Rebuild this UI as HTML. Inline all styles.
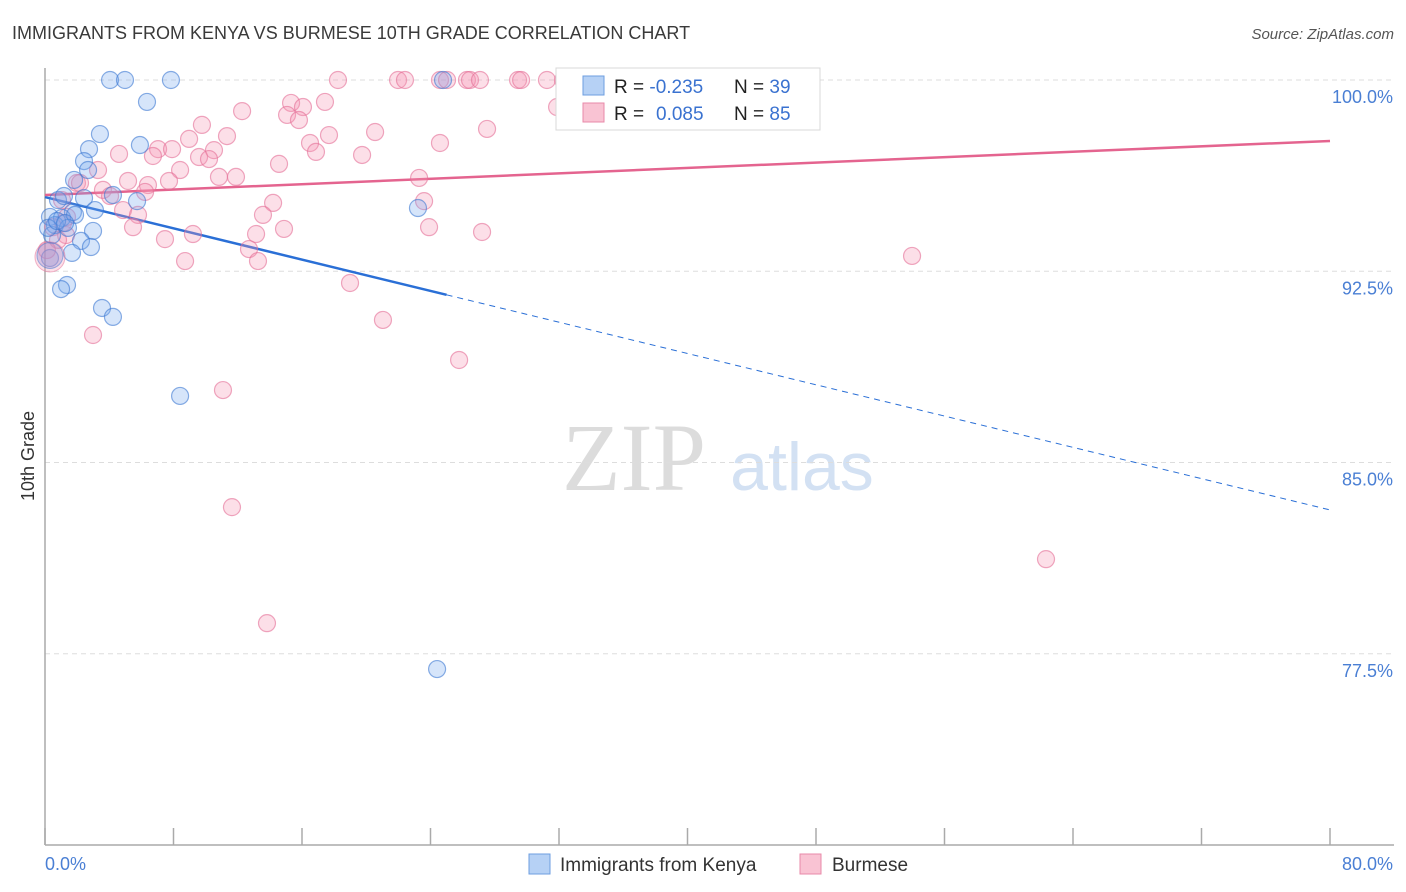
<!DOCTYPE html>
<html><head><meta charset="utf-8"><style>
body{margin:0;background:#fff;font-family:"Liberation Sans",sans-serif}
svg{display:block}
</style></head><body>
<svg id="chart" width="1406" height="892" xmlns="http://www.w3.org/2000/svg">
<text x="12" y="39" font-size="18" fill="#3a3a3a">IMMIGRANTS FROM KENYA VS BURMESE 10TH GRADE CORRELATION CHART</text>
<text x="1394" y="39" font-size="15" font-style="italic" fill="#555" text-anchor="end">Source: ZipAtlas.com</text>
<g>
<text x="634" y="490" font-family="Liberation Serif,serif" font-size="96" fill="#dcdcdc" text-anchor="middle">ZIP</text>
<text x="802" y="490" font-size="68" fill="#d3e1f3" text-anchor="middle">atlas</text>
</g>
<g id="grid"></g><g id="axes"></g><g id="lines"></g><g id="points"></g>
<text transform="translate(34,456) rotate(-90)" font-size="18" fill="#333" text-anchor="middle">10th Grade</text>
<text x="45" y="870" font-size="18" fill="#4a7fd4">0.0%</text>
<text x="1393" y="870" font-size="18" fill="#4a7fd4" text-anchor="end">80.0%</text>
<g>
<rect x="556" y="68" width="264" height="62" fill="#fff" stroke="#d8d8d8"/>
<rect x="583" y="76" width="21" height="19" fill="#b6d1f5" stroke="#6d9ee0"/>
<rect x="583" y="103" width="21" height="19" fill="#f9c3d3" stroke="#e889a8"/>
<text x="614" y="93" font-size="19" fill="#222">R = <tspan fill="#3a72d0">-0.235</tspan><tspan x="734">N = </tspan><tspan fill="#3a72d0">39</tspan></text>
<text x="614" y="120" font-size="19" fill="#222">R = <tspan fill="#3a72d0" x="656">0.085</tspan><tspan x="734">N = </tspan><tspan fill="#3a72d0">85</tspan></text>
</g>
<g>
<rect x="529" y="854" width="21" height="20" fill="#b6d1f5" stroke="#6d9ee0"/>
<text x="560" y="871" font-size="19" fill="#333">Immigrants from Kenya</text>
<rect x="800" y="854" width="21" height="20" fill="#f9c3d3" stroke="#e889a8"/>
<text x="832" y="871" font-size="19" fill="#333">Burmese</text>
</g>
</svg>
<script>
const yTicks=[100,92.5,85,77.5];
const yTickLabels=["100.0%","92.5%","85.0%","77.5%"];
const xTicks=[0,8,16,24,32,40,48,56,64,72,80];
const kenyaX=[4.05,4.98,7.84,24.78,6.35,3.42,5.91,2.74,2.43,2.68,1.81,4.23,2.43,0.81,1.18,5.73,3.11,1.74,23.22,0.31,1.06,1.87,0.62,1.43,2.99,2.24,2.86,1.68,0.31,1.37,1.00,3.55,4.23,8.41,24.41,0.44,0.19,0.75,1.25];
const kenyaY=[100,100,100,100,99.14,97.88,97.45,97.29,96.82,96.47,96.08,95.49,95.37,95.29,95.45,95.25,94.90,94.82,94.98,94.63,94.59,94.71,94.31,94.20,94.08,93.69,93.45,93.22,93.02,91.96,91.80,91.06,90.71,87.61,76.90,93.92,94.20,94.47,94.39];
const burmeseX=[18.24,21.98,22.41,24.59,25.03,26.27,26.46,27.08,29.45,29.64,31.25,32.25,37.67,12.27,15.32,16.06,15.07,15.81,17.43,9.77,11.33,8.97,17.68,20.55,27.52,16.50,16.87,19.74,24.59,4.61,7.04,7.91,6.72,10.52,9.59,10.21,8.41,3.30,14.57,10.83,11.89,23.29,5.17,7.72,6.41,6.23,3.61,1.99,14.20,13.57,23.60,4.05,4.86,5.79,5.48,7.47,9.21,13.14,14.88,23.91,27.21,12.70,13.26,8.72,18.99,21.04,25.78,2.99,11.08,31.88,53.98,62.32,11.64,13.82,0.50,1.12,1.37,1.06,2.18,1.31,0.81,0.12];
const burmeseY=[100,100,100,100,100,100,100,100,100,100,100,100,100,98.78,99.10,98.94,98.63,98.43,99.14,98.24,97.80,97.69,97.84,97.96,98.08,97.53,97.18,97.06,97.53,97.10,97.29,97.29,97.02,97.25,96.98,96.90,96.47,96.47,96.71,96.20,96.20,96.16,96.04,96.04,95.88,95.61,95.69,95.96,95.18,94.71,95.25,95.45,94.90,94.71,94.23,93.76,93.96,93.96,94.16,94.23,94.04,93.37,92.90,92.90,92.04,90.59,89.02,90.00,87.84,98.94,93.10,81.21,83.25,78.70,94.23,94.39,94.63,95.29,95.96,93.92,93.73,93.33];
const bigX=[0.31,0.31];const bigY=[93.06,93.12];
const kenyaTrend=[95.41,83.14];const kenyaSolidEnd=25.0;
const burmeseTrend=[95.49,97.61];

const NS="http://www.w3.org/2000/svg";
const X0=45,X1=1330,Y0=80,Y1=845;
const sx=v=>X0+(v/80)*(X1-X0);
const sy=v=>Y0+(100-v)/30*(Y1-Y0);
function mk(tag,attrs,parent){const e=document.createElementNS(NS,tag);for(const k in attrs)e.setAttribute(k,attrs[k]);parent.appendChild(e);return e;}
const grid=document.getElementById('grid'),axes=document.getElementById('axes'),lines=document.getElementById('lines'),pts=document.getElementById('points');
yTicks.forEach((t,i)=>{
 const l=mk('line',{x1:X0,x2:1394,y1:sy(t),y2:sy(t),stroke:'#ddd','stroke-dasharray':'5,4'},grid);
 
 
 const tx=mk('text',{x:1393,y:sy(t)+23,'font-size':18,fill:'#4a7fd4','text-anchor':'end'},grid);
 tx.textContent=yTickLabels[i];
 
 
});
const ya=mk('line',{x1:X0,x2:X0,y1:68,y2:Y1,stroke:'#aaa','stroke-width':1.5},axes);


const xa=mk('line',{x1:X0,x2:1394,y1:Y1,y2:Y1,stroke:'#aaa','stroke-width':1.5},axes);


xTicks.forEach(t=>{
 const l=mk('line',{x1:sx(t),x2:sx(t),y1:828,y2:Y1,stroke:'#aaa','stroke-width':1.5},axes);
 
 
});
function drawPts(xs,ys,fill,stroke,name,r){
 xs.forEach((x,i)=>{
  const c=mk('circle',{cx:sx(x),cy:sy(ys[i]),r:r,fill:fill,stroke:stroke,'stroke-width':1.2},pts);
  
  
 });
}
drawPts(burmeseX,burmeseY,'rgba(244,150,180,0.3)','rgba(228,110,150,0.6)','burmese-point',8.5);
drawPts(kenyaX,kenyaY,'rgba(120,170,240,0.3)','rgba(60,120,210,0.6)','kenya-point',8.5);
const b1=mk('circle',{cx:sx(bigX[0]),cy:sy(bigY[0]),r:15,fill:'rgba(244,150,180,0.3)',stroke:'rgba(228,110,150,0.5)'},pts);


const b2=mk('circle',{cx:sx(bigX[1]),cy:sy(bigY[1]),r:13,fill:'rgba(150,140,210,0.35)',stroke:'rgba(60,120,210,0.5)'},pts);


const ky=x=>kenyaTrend[0]+(kenyaTrend[1]-kenyaTrend[0])*x/80;
const ks=mk('line',{x1:sx(0),y1:sy(ky(0)),x2:sx(kenyaSolidEnd),y2:sy(ky(kenyaSolidEnd)),stroke:'#2a6fd6','stroke-width':2.5},lines);


const kd=mk('line',{x1:sx(kenyaSolidEnd),y1:sy(ky(kenyaSolidEnd)),x2:sx(80),y2:sy(ky(80)),stroke:'#2a6fd6','stroke-width':1,'stroke-dasharray':'6,5'},lines);


const bl=mk('line',{x1:sx(0),y1:sy(burmeseTrend[0]),x2:sx(80),y2:sy(burmeseTrend[1]),stroke:'#e4648f','stroke-width':2.5},lines);


</script>
</body></html>
